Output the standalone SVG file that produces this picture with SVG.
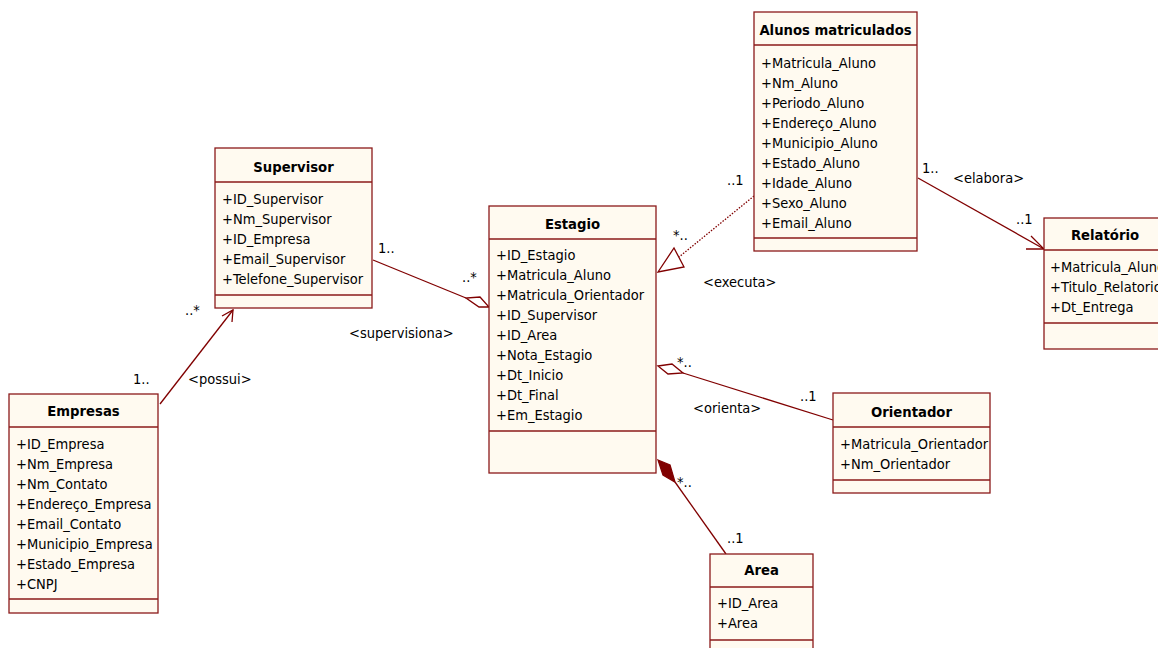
<svg xmlns="http://www.w3.org/2000/svg" width="1158" height="648" viewBox="0 0 1158 648">
<style>
.box{fill:#fffaf0;stroke:#8b1a1a;stroke-width:1.3}
.div{stroke:#8b1a1a;stroke-width:1.3}
.h{font-family:"DejaVu Sans Condensed","Liberation Sans",sans-serif;font-size:14.7px;font-weight:bold;text-anchor:middle;fill:#000}
.a{font-family:"DejaVu Sans Condensed","Liberation Sans",sans-serif;font-size:14.5px;fill:#000}
.c{fill:none;stroke:#800000;stroke-width:1.3}
.ow{fill:#fff;stroke:#800000;stroke-width:1.3}
.fd{fill:#800000;stroke:#800000;stroke-width:1.3}
.l{font-family:"DejaVu Sans Condensed","Liberation Sans",sans-serif;font-size:14.5px;fill:#000}
</style>
<rect width="1158" height="648" fill="#fff"/>
<g id="connectors">
  <line class="c" x1="160" y1="404" x2="233" y2="310"/>
  <polyline class="c" points="222,316 233,310 232,322"/>
  <line class="c" x1="373" y1="260" x2="466" y2="298"/>
  <polygon class="ow" points="489,307 479,307 466,298 480,297"/>
  <line class="c" x1="754" y1="196" x2="679" y2="257" stroke-dasharray="1.5,1.5"/>
  <polygon class="ow" points="658,272 674,248 684,267"/>
  <line class="c" x1="833" y1="420" x2="683" y2="373"/>
  <polygon class="ow" points="658,366 672,364 683,373 668,374"/>
  <line class="c" x1="726" y1="554" x2="675" y2="482"/>
  <polygon class="fd" points="658,460 670,465 675,482 663,475"/>
  <line class="c" x1="918" y1="178" x2="1044" y2="249"/>
  <polyline class="c" points="1031,236 1044,249 1026,249"/>
  <text class="l" x="185" y="315">..*</text>
  <text class="l" x="133" y="384">1..</text>
  <text class="l" x="188" y="384">&lt;possui&gt;</text>
  <text class="l" x="378" y="253">1..</text>
  <text class="l" x="462" y="282">..*</text>
  <text class="l" x="349" y="338">&lt;supervisiona&gt;</text>
  <text class="l" x="673" y="240">*..</text>
  <text class="l" x="727" y="185">..1</text>
  <text class="l" x="703" y="287">&lt;executa&gt;</text>
  <text class="l" x="922" y="173">1..</text>
  <text class="l" x="953" y="183">&lt;elabora&gt;</text>
  <text class="l" x="1016" y="224">..1</text>
  <text class="l" x="677" y="367">*..</text>
  <text class="l" x="800" y="401">..1</text>
  <text class="l" x="693" y="413">&lt;orienta&gt;</text>
  <text class="l" x="677" y="487">*..</text>
  <text class="l" x="727" y="543">..1</text>
</g>
<g id="supervisor">
  <rect class="box" x="215" y="148" width="157" height="160"/>
  <line class="div" x1="215" y1="182" x2="372" y2="182"/>
  <line class="div" x1="215" y1="295" x2="372" y2="295"/>
  <text class="h" x="293.5" y="172">Supervisor</text>
  <text class="a" x="222" y="204">+ID_Supervisor</text>
  <text class="a" x="222" y="224">+Nm_Supervisor</text>
  <text class="a" x="222" y="244">+ID_Empresa</text>
  <text class="a" x="222" y="264">+Email_Supervisor</text>
  <text class="a" x="222" y="284">+Telefone_Supervisor</text>
</g>
<g id="empresas">
  <rect class="box" x="9" y="394" width="149" height="219"/>
  <line class="div" x1="9" y1="427" x2="158" y2="427"/>
  <line class="div" x1="9" y1="599" x2="158" y2="599"/>
  <text class="h" x="83.5" y="416">Empresas</text>
  <text class="a" x="16" y="449">+ID_Empresa</text>
  <text class="a" x="16" y="469">+Nm_Empresa</text>
  <text class="a" x="16" y="489">+Nm_Contato</text>
  <text class="a" x="16" y="509">+Endereço_Empresa</text>
  <text class="a" x="16" y="529">+Email_Contato</text>
  <text class="a" x="16" y="549">+Municipio_Empresa</text>
  <text class="a" x="16" y="569">+Estado_Empresa</text>
  <text class="a" x="16" y="589">+CNPJ</text>
</g>
<g id="estagio">
  <rect class="box" x="489" y="206" width="167" height="267"/>
  <line class="div" x1="489" y1="239" x2="656" y2="239"/>
  <line class="div" x1="489" y1="431" x2="656" y2="431"/>
  <text class="h" x="572.5" y="229">Estagio</text>
  <text class="a" x="496" y="260">+ID_Estagio</text>
  <text class="a" x="496" y="280">+Matricula_Aluno</text>
  <text class="a" x="496" y="300">+Matricula_Orientador</text>
  <text class="a" x="496" y="320">+ID_Supervisor</text>
  <text class="a" x="496" y="340">+ID_Area</text>
  <text class="a" x="496" y="360">+Nota_Estagio</text>
  <text class="a" x="496" y="380">+Dt_Inicio</text>
  <text class="a" x="496" y="400">+Dt_Final</text>
  <text class="a" x="496" y="420">+Em_Estagio</text>
</g>
<g id="alunos">
  <rect class="box" x="754" y="12" width="163" height="239"/>
  <line class="div" x1="754" y1="45" x2="917" y2="45"/>
  <line class="div" x1="754" y1="238" x2="917" y2="238"/>
  <text class="h" x="835.5" y="35">Alunos matriculados</text>
  <text class="a" x="761" y="68">+Matricula_Aluno</text>
  <text class="a" x="761" y="88">+Nm_Aluno</text>
  <text class="a" x="761" y="108">+Periodo_Aluno</text>
  <text class="a" x="761" y="128">+Endereço_Aluno</text>
  <text class="a" x="761" y="148">+Municipio_Aluno</text>
  <text class="a" x="761" y="168">+Estado_Aluno</text>
  <text class="a" x="761" y="188">+Idade_Aluno</text>
  <text class="a" x="761" y="208">+Sexo_Aluno</text>
  <text class="a" x="761" y="228">+Email_Aluno</text>
</g>
<g id="relatorio">
  <rect class="box" x="1044" y="218" width="130" height="131"/>
  <line class="div" x1="1044" y1="250" x2="1174" y2="250"/>
  <line class="div" x1="1044" y1="323" x2="1174" y2="323"/>
  <text class="h" x="1105" y="240">Relatório</text>
  <text class="a" x="1050" y="272">+Matricula_Aluno</text>
  <text class="a" x="1050" y="292">+Titulo_Relatorio</text>
  <text class="a" x="1050" y="312">+Dt_Entrega</text>
</g>
<g id="orientador">
  <rect class="box" x="833" y="393" width="157" height="100"/>
  <line class="div" x1="833" y1="427" x2="990" y2="427"/>
  <line class="div" x1="833" y1="480" x2="990" y2="480"/>
  <text class="h" x="911.5" y="417">Orientador</text>
  <text class="a" x="840" y="449">+Matricula_Orientador</text>
  <text class="a" x="840" y="469">+Nm_Orientador</text>
</g>
<g id="area">
  <rect class="box" x="710" y="554" width="103" height="110"/>
  <line class="div" x1="710" y1="587" x2="813" y2="587"/>
  <line class="div" x1="710" y1="640" x2="813" y2="640"/>
  <text class="h" x="761.5" y="575">Area</text>
  <text class="a" x="717" y="608">+ID_Area</text>
  <text class="a" x="717" y="628">+Area</text>
</g>
</svg>
